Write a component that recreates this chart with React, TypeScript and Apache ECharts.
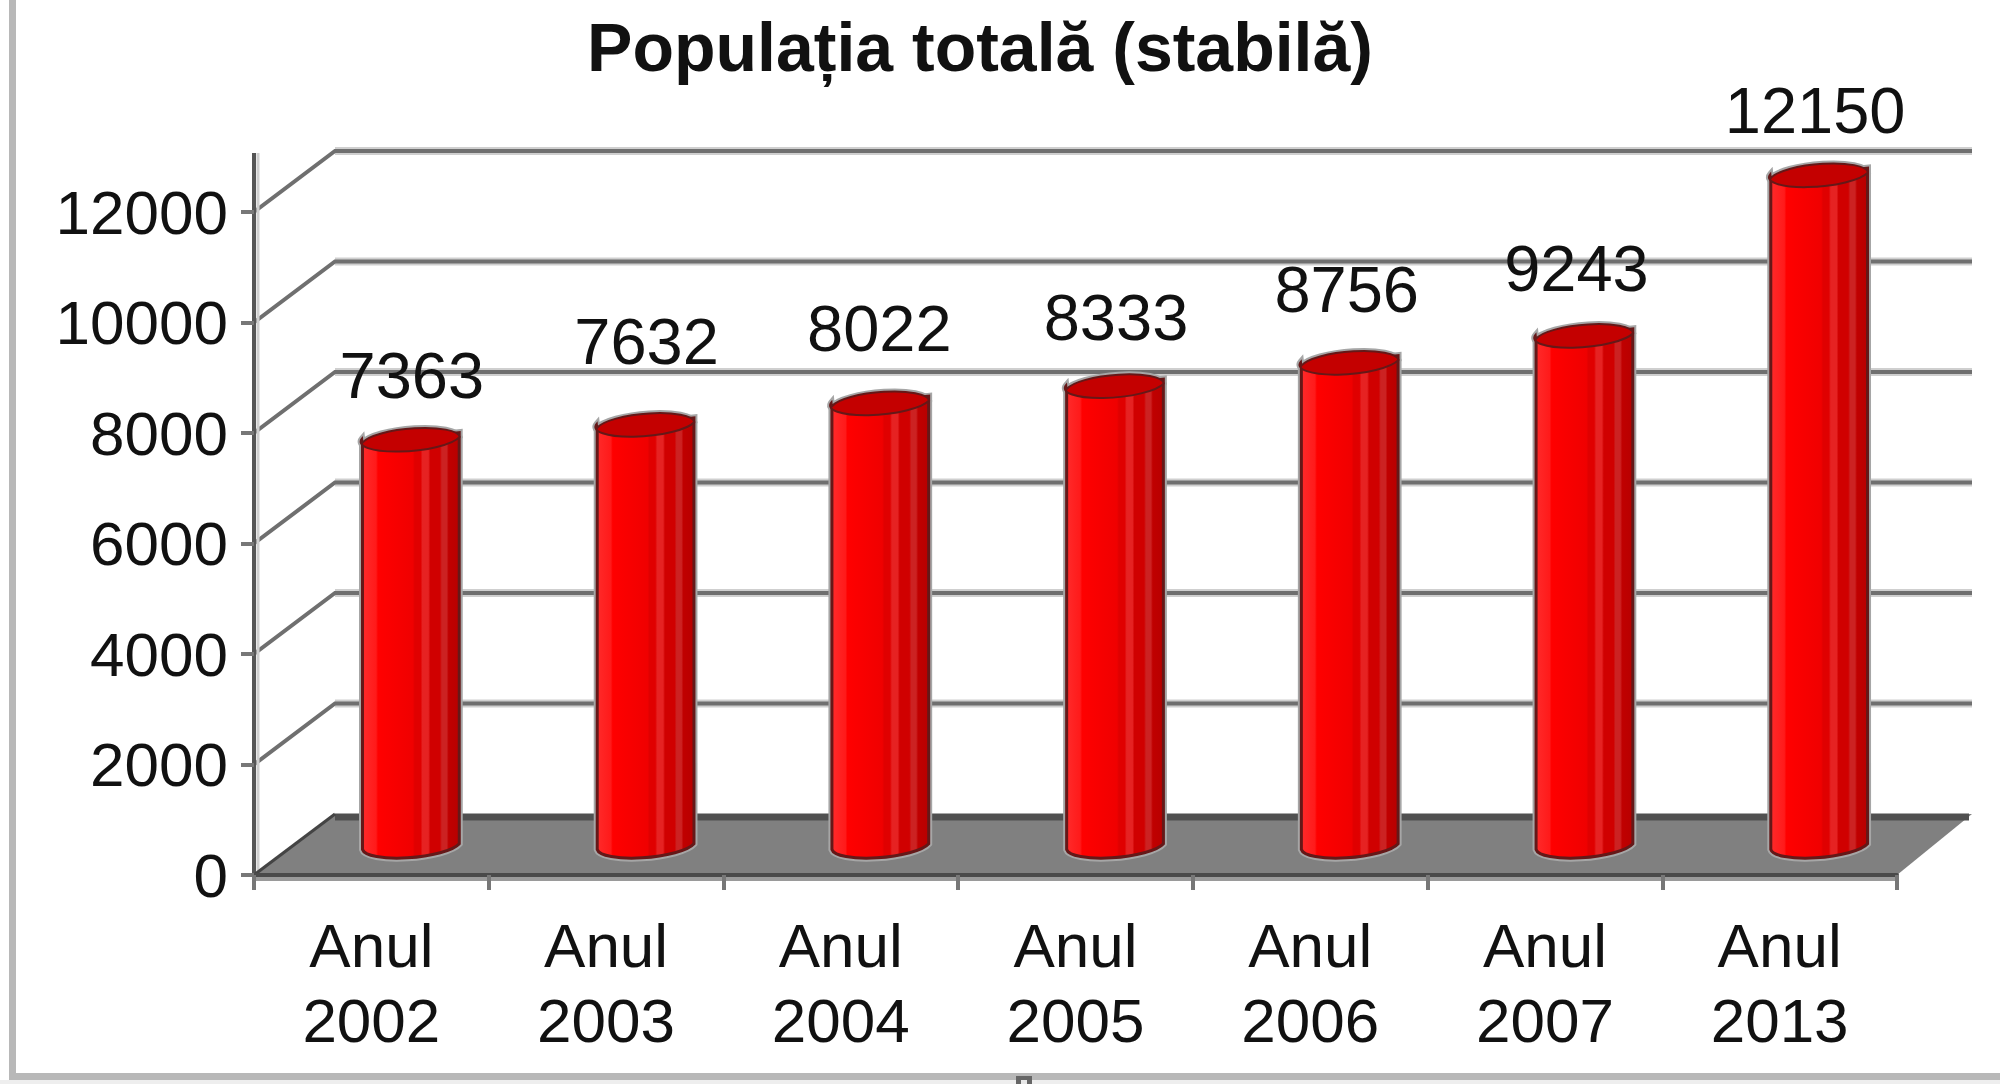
import React, { useEffect, useRef } from "react";
import * as echarts from "echarts";

const categories = ["Anul\n2002", "Anul\n2003", "Anul\n2004", "Anul\n2005", "Anul\n2006", "Anul\n2007", "Anul\n2013"];
const population = [7363, 7632, 8022, 8333, 8756, 9243, 12150];
const yTicks = [0, 2000, 4000, 6000, 8000, 10000, 12000];
const titleText = "Populația totală (stabilă)";
// Hand-placed value labels in the original: small nudges from the default spot
const labelNudgeX = [0, 0, -2, 0, -4, -9, -5];
const labelNudgeY = [0, -19, -11, -5, -9, -3, -1];

const FONT = '"Liberation Sans", Arial, sans-serif';
const DEPTH_X = 81;
const DEPTH_Y = 61;
const BACK_RIGHT = 1972;

const barGradient = {
  type: "linear", x: 0, y: 0, x2: 1, y2: 0,
  colorStops: [
    { offset: 0, color: "#ff2a2a" },
    { offset: 0.14, color: "#ff1a1a" },
    { offset: 0.16, color: "#ff0000" },
    { offset: 0.52, color: "#f00000" },
    { offset: 0.54, color: "#e00000" },
    { offset: 0.6, color: "#e00000" },
    { offset: 0.62, color: "#e62222" },
    { offset: 0.68, color: "#e62222" },
    { offset: 0.7, color: "#d00000" },
    { offset: 0.8, color: "#d00000" },
    { offset: 0.82, color: "#cc2222" },
    { offset: 0.87, color: "#cc2222" },
    { offset: 0.89, color: "#c00000" },
    { offset: 1, color: "#b80000" },
  ],
};

const renderWall = (_: any, api: any) => {
  const value = api.value(0);
  const [fx, fy] = api.coord([0, value]);
  const step = api.size([1, 0])[0];
  const left = fx - step / 2;
  const bx = left + DEPTH_X;
  const by = fy - DEPTH_Y;
  const children: any[] = [];
  if (value === 0) {
    const right = left + step * categories.length;
    const top = api.coord([0, yTicks[yTicks.length - 1]])[1] - DEPTH_Y + 2;
    children.push({
      type: "line",
      shape: { x1: left + 4, y1: fy, x2: left + 4, y2: top },
      style: { stroke: "#cfcfcf", lineWidth: 3 },
    });
    children.push({
      type: "line",
      shape: { x1: left, y1: fy, x2: left, y2: top },
      style: { stroke: "#555555", lineWidth: 4 },
    });
    children.push({
      type: "line",
      shape: { x1: left, y1: fy + 4, x2: right, y2: fy + 4 },
      style: { stroke: "#9a9a9a", lineWidth: 4 },
    });
    children.push({
      type: "polygon",
      shape: { points: [[left, fy], [bx, by], [BACK_RIGHT, by], [right, fy]] },
      style: { fill: "#808080" },
    });
    children.push({
      type: "line",
      shape: { x1: bx, y1: by + 3, x2: BACK_RIGHT - 3, y2: by + 3 },
      style: { stroke: "#505050", lineWidth: 7 },
    });
    children.push({
      type: "line",
      shape: { x1: left, y1: fy, x2: bx, y2: by },
      style: { stroke: "#444444", lineWidth: 3 },
    });
  } else {
    const points = [[left, fy], [bx, by], [BACK_RIGHT, by]];
    children.push({
      type: "polyline",
      shape: { points: [[bx, by], [BACK_RIGHT, by]] },
      style: { fill: "none", stroke: "#cfcfcf", lineWidth: 8 },
    });
    children.push({
      type: "polyline",
      shape: { points },
      style: { fill: "none", stroke: "#6f6f6f", lineWidth: 4 },
    });
  }
  return { type: "group", children };
};

const renderBar = (_: any, api: any) => {
  const i = api.value(0);
  const v = api.value(1);
  const base = api.coord([i, 0]);
  const top = api.coord([i, v]);
  const step = api.size([1, 0])[0];
  const cx = base[0] + DEPTH_X / 2 - 1;
  const rx = step * 0.206;
  const ry = 13;
  const tilt = 5;
  const yb = base[1] - DEPTH_Y / 2;
  const yt = top[1] - DEPTH_Y / 2;
  const x0 = cx - rx;
  const x1 = cx + rx;
  const body = `M ${x0} ${yt + tilt} L ${x0} ${yb + tilt} A ${rx + 1} ${ry} -5 0 0 ${x1} ${yb - tilt} L ${x1} ${yt - tilt} Z`;
  const cap = `M ${x0} ${yt + tilt} A ${rx + 1} ${ry} -5 0 1 ${x1} ${yt - tilt} A ${rx + 1} ${ry} -5 0 1 ${x0} ${yt + tilt} Z`;
  return {
    type: "group",
    children: [
      { type: "path", shape: { pathData: body }, style: { fill: "none", stroke: "#a6a6a6", lineWidth: 7 } },
      { type: "path", shape: { pathData: cap }, style: { fill: "none", stroke: "#a6a6a6", lineWidth: 6 } },
      { type: "path", shape: { pathData: body }, style: { fill: barGradient, stroke: "#651818", lineWidth: 3 } },
      { type: "path", shape: { pathData: cap }, style: { fill: "#c40000", stroke: "#651818", lineWidth: 2 } },
      {
        type: "text",
        x: cx + 1 + labelNudgeX[i],
        y: yt - 62 + labelNudgeY[i],
        style: {
          text: String(v),
          fill: "#111111",
          font: `65px ${FONT}`,
          align: "center",
          verticalAlign: "middle",
        },
      },
    ],
  };
};

export default function App() {
  const ref = useRef<HTMLDivElement>(null);
  useEffect(() => {
    const chart = echarts.init(ref.current!, undefined, { renderer: "svg" });
    chart.setOption({
      animation: false,
      backgroundColor: "#ffffff",
      title: {
        text: titleText,
        left: 975,
        top: 8,
        textAlign: "center",
        textStyle: { fontFamily: FONT, fontSize: 68, fontWeight: "bold", color: "#111111" },
      },
      grid: { left: 254, right: 103, top: 212, bottom: 209, containLabel: false },
      xAxis: {
        type: "category",
        data: categories,
        z: 5,
        axisLine: { lineStyle: { color: "#4a4a4a", width: 4 } },
        axisTick: { show: true, length: 15, lineStyle: { color: "#777777", width: 4 } },
        axisLabel: {
          interval: 0,
          margin: 33,
          lineHeight: 75,
          fontFamily: FONT,
          fontSize: 62,
          color: "#111111",
        },
      },
      yAxis: {
        type: "value",
        min: 0,
        max: 12000,
        interval: 2000,
        z: 5,
        axisLine: { show: false },
        axisTick: { show: true, length: 13, lineStyle: { color: "#777777", width: 4 } },
        splitLine: { show: false },
        axisLabel: {
          margin: 26,
          fontFamily: FONT,
          fontSize: 62,
          color: "#111111",
          formatter: (v: number) => String(v),
        },
      },
      graphic: [
        { type: "rect", shape: { x: 9, y: 0, width: 7, height: 1080 }, style: { fill: "#b8b8b8" } },
        { type: "rect", shape: { x: 9, y: 1073, width: 1991, height: 7 }, style: { fill: "#b8b8b8" } },
        { type: "rect", shape: { x: 0, y: 1080, width: 2000, height: 4 }, style: { fill: "#eeeeee" } },
        { type: "rect", shape: { x: 1016, y: 1076, width: 16, height: 8 }, style: { fill: "#666666" } },
        { type: "rect", shape: { x: 1021, y: 1080, width: 6, height: 4 }, style: { fill: "#e8e8e8" } },
      ],
      series: [
        {
          type: "custom",
          name: "Grilă",
          renderItem: renderWall,
          data: [...yTicks].reverse().map((t) => [t]),
          encode: { y: 0 },
          clip: false,
          z: 1,
          silent: true,
        },
        {
          type: "custom",
          name: "Populația",
          renderItem: renderBar,
          data: population.map((v, i) => [i, v]),
          encode: { x: 0, y: 1 },
          clip: false,
          z: 3,
        },
      ],
    });
    return () => chart.dispose();
  }, []);
  return <div ref={ref} style={{ position: "fixed", left: 0, top: 0, width: 2000, height: 1084 }} />;
}
